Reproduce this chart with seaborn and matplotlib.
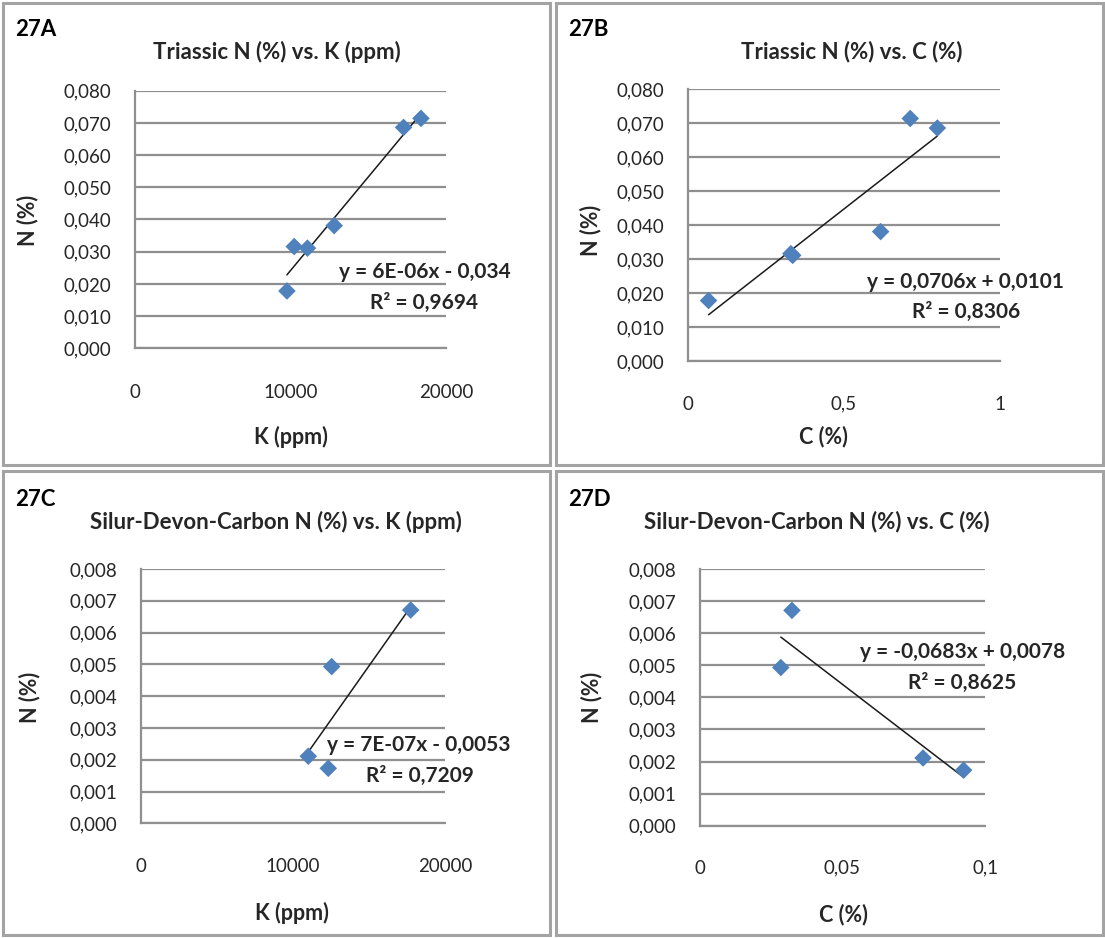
import numpy as np
import pandas as pd
import matplotlib
matplotlib.use("Agg")
import matplotlib.pyplot as plt
import seaborn as sns
from matplotlib.patches import Rectangle

sns.set_style("white")
plt.rcParams['font.family'] = ['Lato', 'DejaVu Sans']

# data
tri_k = [9770, 10240, 11090, 12810, 17270, 18390]        # K (ppm), Triassic
tri_c = [0.066, 0.330, 0.336, 0.618, 0.800, 0.713]       # C (%), Triassic
tri_n = [0.0178, 0.0316, 0.0311, 0.0381, 0.0686, 0.0714] # N (%), Triassic

sdc_k = [12550, 17745, 11015, 12330]                     # K (ppm), Silur-Devon-Carbon
sdc_c = [0.0284, 0.0323, 0.0782, 0.0924]                 # C (%)
sdc_n = [0.00493, 0.00671, 0.00211, 0.00173]             # N (%)

tri_yticks = [0, 0.01, 0.02, 0.03, 0.04, 0.05, 0.06, 0.07, 0.08]
tri_ylabels = ["0,000", "0,010", "0,020", "0,030", "0,040", "0,050", "0,060", "0,070", "0,080"]
sdc_yticks = [0, 0.001, 0.002, 0.003, 0.004, 0.005, 0.006, 0.007, 0.008]
sdc_ylabels = ["0,000", "0,001", "0,002", "0,003", "0,004", "0,005", "0,006", "0,007", "0,008"]
k_xticks = [0, 10000, 20000]
k_xlabels = ["0", "10000", "20000"]
tc_xticks = [0, 0.5, 1]
tc_xlabels = ["0", "0,5", "1"]
sc_xticks = [0, 0.05, 0.1]
sc_xlabels = ["0", "0,05", "0,1"]

W, H = 1105, 938
fig = plt.figure(figsize=(W / 100, H / 100), dpi=100)
grey = "#8f8f8f"
txt = "#262626"


def ftext(x, y, s, **kw):
    fig.text(x / W, 1 - y / H, s, **kw)


def panel(box, tag, title, xs, ys, xt, xl, yt, yl, xlab, eq, r2, g):
    # g: pixel geometry of the plot area and text anchors
    x0, y0, x1, y1 = box
    fig.patches.append(Rectangle((x0 / W, 1 - y1 / H), (x1 - x0) / W, (y1 - y0) / H,
                                 transform=fig.transFigure, fill=False,
                                 ec="#a3a3a3", lw=2.2))
    l, t, r, b = g["area"]
    ax = fig.add_axes([l / W, 1 - b / H, (r - l) / W, (b - t) / H])
    df = pd.DataFrame({"x": xs, "y": ys})
    sns.regplot(data=df, x="x", y="y", ax=ax, ci=None, scatter=False,
                line_kws=dict(color="#1a1a1a", lw=1.1))
    sns.scatterplot(data=df, x="x", y="y", ax=ax, marker="D", s=80,
                    color="#4F81BD", edgecolor="none", zorder=3)
    ax.set_xlim(xt[0], xt[-1])
    ax.set_ylim(yt[0], yt[-1])
    ax.set_xticks(xt)
    ax.set_xticklabels(xl)
    ax.set_yticks(yt)
    ax.set_yticklabels(yl)
    ax.grid(axis="y", color=grey, lw=1.6)
    ax.grid(axis="x", visible=False)
    ax.set_axisbelow(True)
    for s in ["top", "right"]:
        ax.spines[s].set_visible(False)
    for s in ["left", "bottom"]:
        ax.spines[s].set_color(grey)
        ax.spines[s].set_linewidth(1.6)
    ax.tick_params(axis="both", direction="out", length=6, width=1.6, color=grey,
                   labelsize=13.5, labelcolor=txt)
    ax.tick_params(axis="y", pad=g["ypad"])
    ax.tick_params(axis="x", pad=g["xpad"])
    ax.set_xlabel(xlab, fontsize=15.5, fontweight="bold", color=txt, va="center")
    ax.set_ylabel("N (%)", fontsize=15.5, fontweight="bold", color=txt, va="center")
    ax.xaxis.set_label_coords((g["xlab"][0] - l) / (r - l), (b - g["xlab"][1]) / (b - t))
    ax.yaxis.set_label_coords((g["ylab"][0] - l) / (r - l), (b - g["ylab"][1]) / (b - t))

    ftext(x0 + 12, g["tag_y"], tag, fontsize=16, fontweight="bold", color="black",
          va="center", ha="left")
    ftext(g["title"][0], g["title"][1], title, fontsize=16, fontweight="bold",
          color=txt, ha="center", va="center")
    ftext(g["eq"][0], g["eq"][1], eq, fontsize=15, fontweight="bold", color=txt,
          ha="center", va="center")
    ftext(g["r2"][0], g["r2"][1], r2, fontsize=15, fontweight="bold", color=txt,
          ha="center", va="center")
    return ax


panel((3, 3, 550, 465), "27A", "Triassic N (%) vs. K (ppm)", tri_k, tri_n,
      k_xticks, k_xlabels, tri_yticks, tri_ylabels, "K (ppm)",
      "y = 6E-06x - 0,034", "R² = 0,9694",
      dict(area=(135, 90.7, 446, 348.3), ypad=11, xpad=19.5, xlab=(291, 437),
           ylab=(28, 220), tag_y=30, title=(277, 52), eq=(425, 272), r2=(424, 303)))

panel((556, 3, 1103, 465), "27B", "Triassic N (%) vs. C (%)", tri_c, tri_n,
      tc_xticks, tc_xlabels, tri_yticks, tri_ylabels, "C (%)",
      "y = 0,0706x + 0,0101", "R² = 0,8306",
      dict(area=(688, 89.3, 999.7, 361), ypad=11, xpad=19, xlab=(823, 437),
           ylab=(591, 230), tag_y=30, title=(852, 52), eq=(965, 282), r2=(966, 312)))

panel((3, 471, 550, 935), "27C", "Silur-Devon-Carbon N (%) vs. K (ppm)", sdc_k, sdc_n,
      k_xticks, k_xlabels, sdc_yticks, sdc_ylabels, "K (ppm)",
      "y = 7E-07x - 0,0053", "R² = 0,7209",
      dict(area=(140.7, 569, 445, 823.3), ypad=11, xpad=19, xlab=(292, 913),
           ylab=(30, 697), tag_y=499, title=(276, 522), eq=(419, 745), r2=(420, 776)))

panel((556, 471, 1103, 935), "27D", "Silur-Devon-Carbon N (%) vs. C (%)", sdc_c, sdc_n,
      sc_xticks, sc_xlabels, sdc_yticks, sdc_ylabels, "C (%)",
      "y = -0,0683x + 0,0078", "R² = 0,8625",
      dict(area=(699.7, 569, 985.3, 825.7), ypad=11, xpad=18.5, xlab=(843, 915),
           ylab=(592, 697), tag_y=499, title=(817, 522), eq=(963, 652), r2=(962, 683)))

fig.savefig("out.png", dpi=100)
